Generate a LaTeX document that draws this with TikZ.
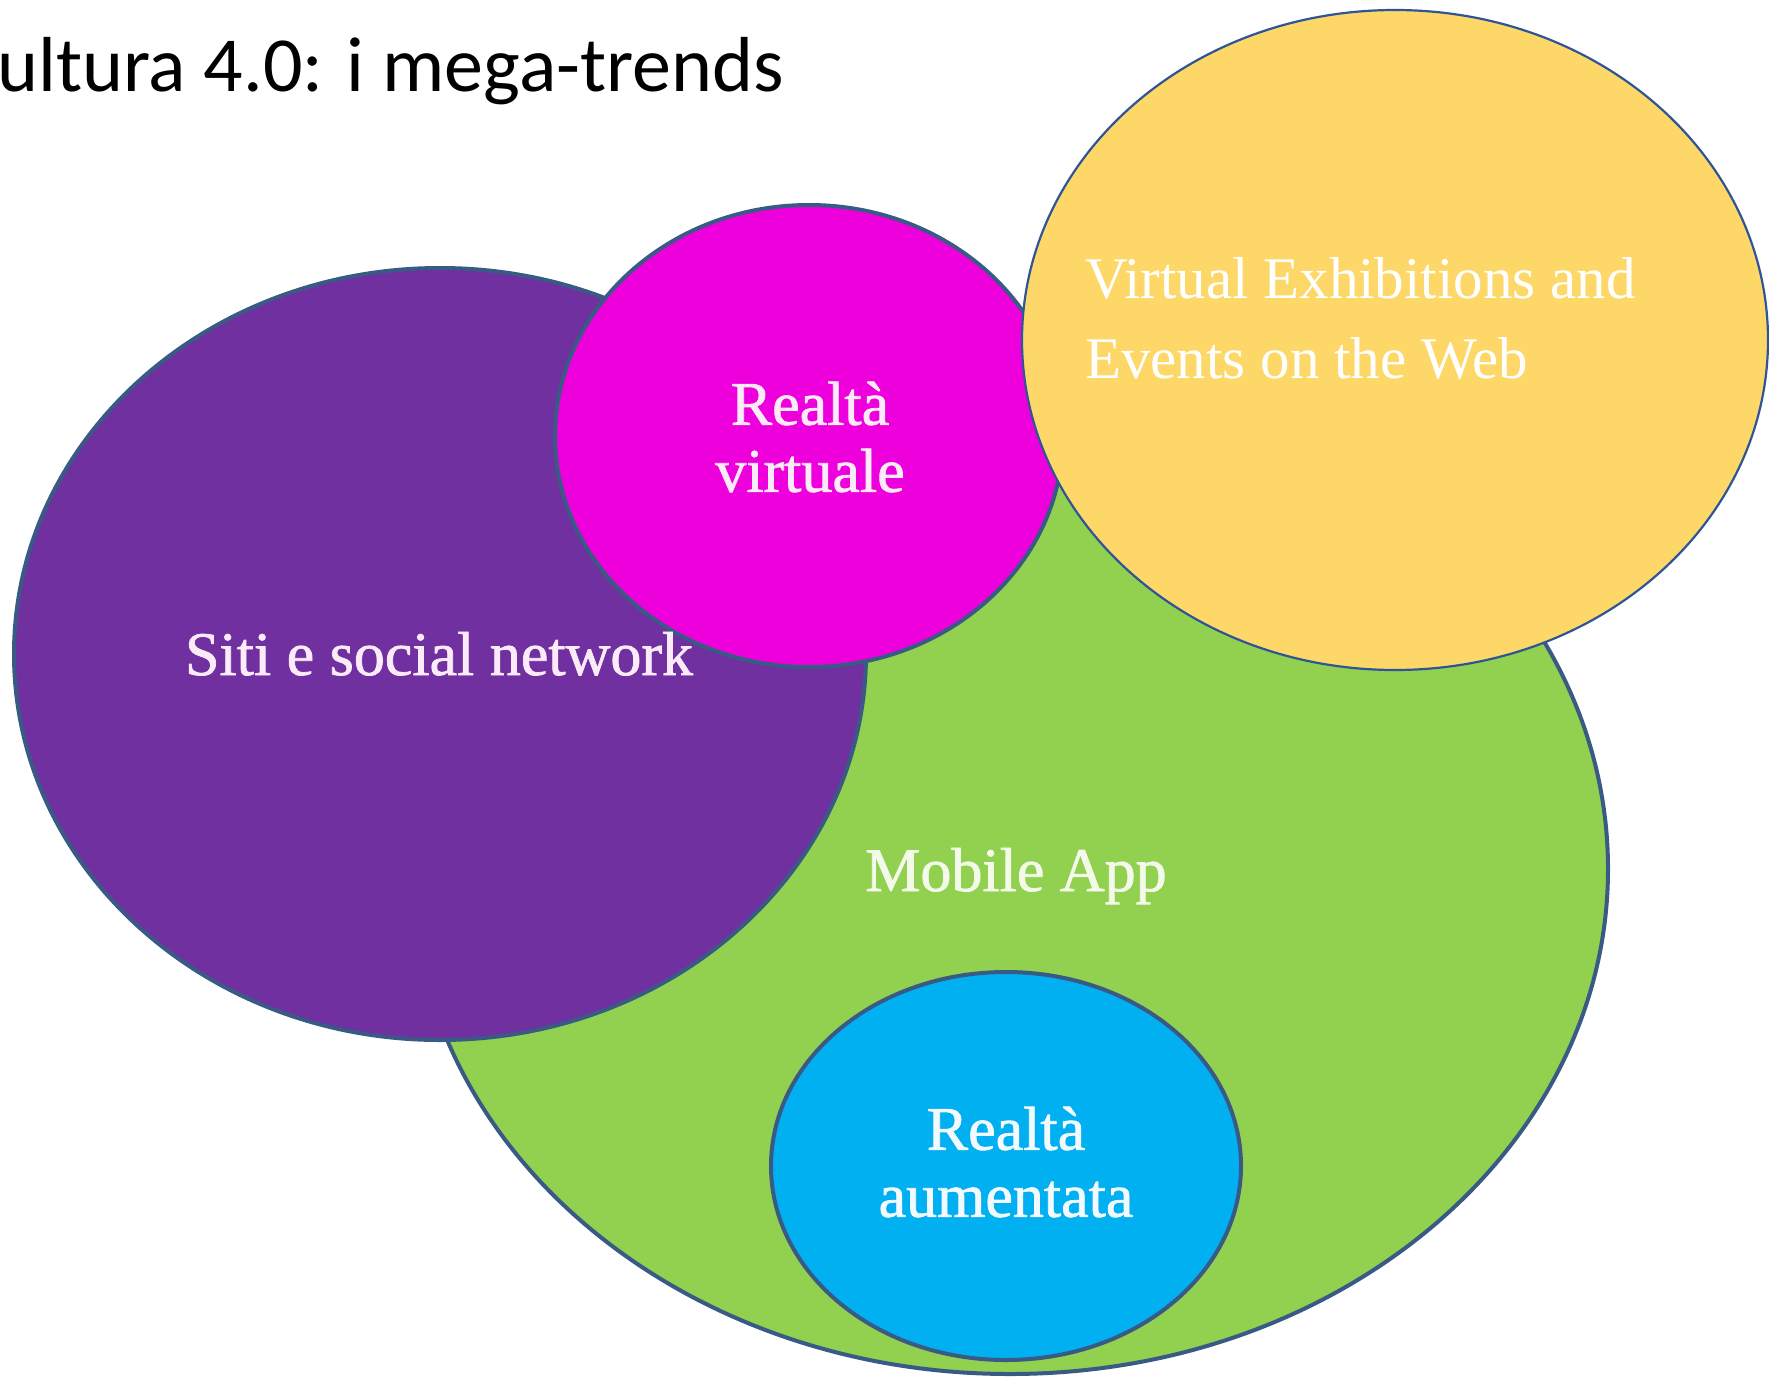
\documentclass[tikz,border=0pt]{standalone}
\usepackage{fontspec}
\setmainfont{Liberation Serif}
\newfontfamily\labelfont[FakeBold=1.2]{Liberation Serif}
\newfontfamily\titlefont{Carlito}
\usetikzlibrary{shapes.geometric}
\definecolor{cpurple}{HTML}{7030A0}
\definecolor{cmagenta}{HTML}{EE00DC}
\definecolor{cgreen}{HTML}{92D050}
\definecolor{cblue}{HTML}{00B0F0}
\definecolor{cyellow}{HTML}{FDD868}
\definecolor{cedge}{HTML}{3A5A86}
\definecolor{cyedge}{HTML}{2F5597}
\definecolor{pinkw}{HTML}{FBEAF8}
\definecolor{greenw}{HTML}{F3FAEA}
\definecolor{bluew}{HTML}{F2FAFF}
\begin{document}
\begin{tikzpicture}[x=1pt,y=-1pt,
  blob/.style={ellipse, draw=cedge, line width=4pt, inner sep=0pt},
  lbl/.style={inner sep=0pt, font=\labelfont\fontsize{62}{67}\selectfont, align=center}]
\useasboundingbox (0,0) rectangle (1769,1376);
\fill[white] (0,0) rectangle (1769,1376);
% shapes
\node[blob, fill=cgreen, minimum width=1196pt, minimum height=1010pt] (green) at (1010,869) {};
\node[blob, fill=cpurple, minimum width=852pt, minimum height=772pt] (purple) at (440,654) {};
\node[blob, fill=cblue, minimum width=470pt, minimum height=388pt] (blue) at (1006,1166) {};
\node[blob, fill=cmagenta, minimum width=508pt, minimum height=462pt] (magenta) at (809,436) {};
\node[blob, fill=cyellow, draw=cyedge, line width=2.2pt, minimum width=746pt, minimum height=660pt] (yellow) at (1395,340) {};
% labels
\node[lbl, text=pinkw, anchor=base] (tsiti) at (439,675) {Siti e social network};
\node[lbl, text=pinkw] (tvr) at (810,437) {Realtà\\virtuale};
\node[lbl, text=greenw, anchor=base] (tmob) at (1016,891) {Mobile App};
\node[lbl, text=bluew] (tar) at (1006,1162) {Realtà\\aumentata};
\node[inner sep=0pt, text=white, font=\fontsize{59}{80}\selectfont, align=left, anchor=west] (tyel) at (1085,318) {Virtual Exhibitions and\\Events on the Web};
% title
\node[inner sep=0pt, anchor=base east, font=\titlefont\fontsize{78}{90}\selectfont] (title) at (784,91) {ultura 4.0: i mega-trends};
\end{tikzpicture}
\end{document}
